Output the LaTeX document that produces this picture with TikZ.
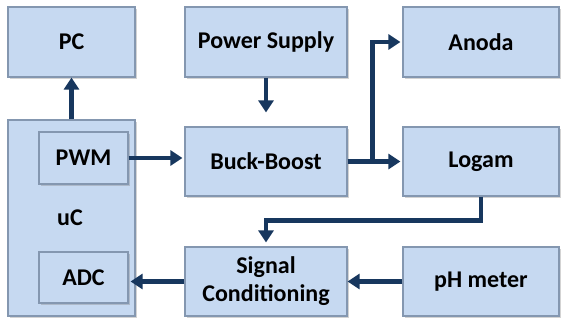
\documentclass[tikz,border=0pt]{standalone}
\usepackage{fontspec}
\setmainfont{Carlito}
\usetikzlibrary{arrows.meta,shadows}
\definecolor{kotak}{RGB}{198,217,241}
\definecolor{garis}{RGB}{132,151,176}
\definecolor{panah}{RGB}{23,55,94}
\begin{document}
\begin{tikzpicture}[x=0.5pt, y=-0.5pt, line join=miter]
    % Gaya kotak dan panah
    \tikzset{
      teks/.style={font=\fontsize{12}{14}\selectfont\bfseries, align=center, inner sep=0pt},
      blok/.style={teks, draw=garis, fill=kotak, line width=0.6pt,
        drop shadow={shadow xshift=0.8pt, shadow yshift=-0.8pt, opacity=0.35}},
      panahku/.style={draw=panah, line width=2.2pt, -{Triangle[width=7.5pt,length=6pt]}}
    }
    \useasboundingbox (0,0) rectangle (563,322);

    % Baris atas
    \node[blok, minimum width=63.5pt, minimum height=35pt] (pc) at (71.5,42) {PC};
    \node[blok, minimum width=81pt, minimum height=35pt] (power) at (266,42) {Power Supply};
    \node[blok, minimum width=78pt, minimum height=35pt] (anoda) at (481,42) {Anoda};

    % Mikrokontroler dengan PWM dan ADC
    \node[blok, minimum width=63.5pt, minimum height=98pt] (uc) at (71.5,218) {};
    \node[teks] (uclabel) at (70,218) {uC};
    \node[blok, minimum width=44.5pt, minimum height=26pt] (pwm) at (83.5,158) {PWM};
    \node[blok, minimum width=44.5pt, minimum height=25.5pt] (adc) at (83.5,277.5) {ADC};

    % Baris tengah dan bawah
    \node[blok, minimum width=81pt, minimum height=34.5pt] (buck) at (266,161.5) {Buck-Boost};
    \node[blok, minimum width=78pt, minimum height=34.5pt] (logam) at (481,161.5) {Logam};
    \node[blok, minimum width=81pt, minimum height=34.5pt] (sig) at (266,281.5) {Signal\\Conditioning};
    \node[blok, minimum width=78pt, minimum height=34.5pt] (ph) at (481,281.5) {pH meter};

    % Panah-panah
    \draw[panahku] (uc.north) -- (pc.south);
    \draw[panahku, shorten >=7pt] (power.south) -- (buck.north);
    \draw[panahku, shorten >=1pt] (pwm.east) -- (pwm.east -| buck.west);
    \draw[panahku, shorten >=1pt] (buck.east) -- (logam.west);
    \draw[panahku, shorten >=1pt] (buck.east) -- ++(25,0) |- (anoda.west);
    \draw[panahku, shorten >=2pt] (logam.south) -- ++(0,24) -| (sig.north);
    \draw[panahku] (ph.west) -- (sig.east);
    \draw[panahku, shorten >=1pt] (sig.west) -- (sig.west -| adc.east);
\end{tikzpicture}
\end{document}
